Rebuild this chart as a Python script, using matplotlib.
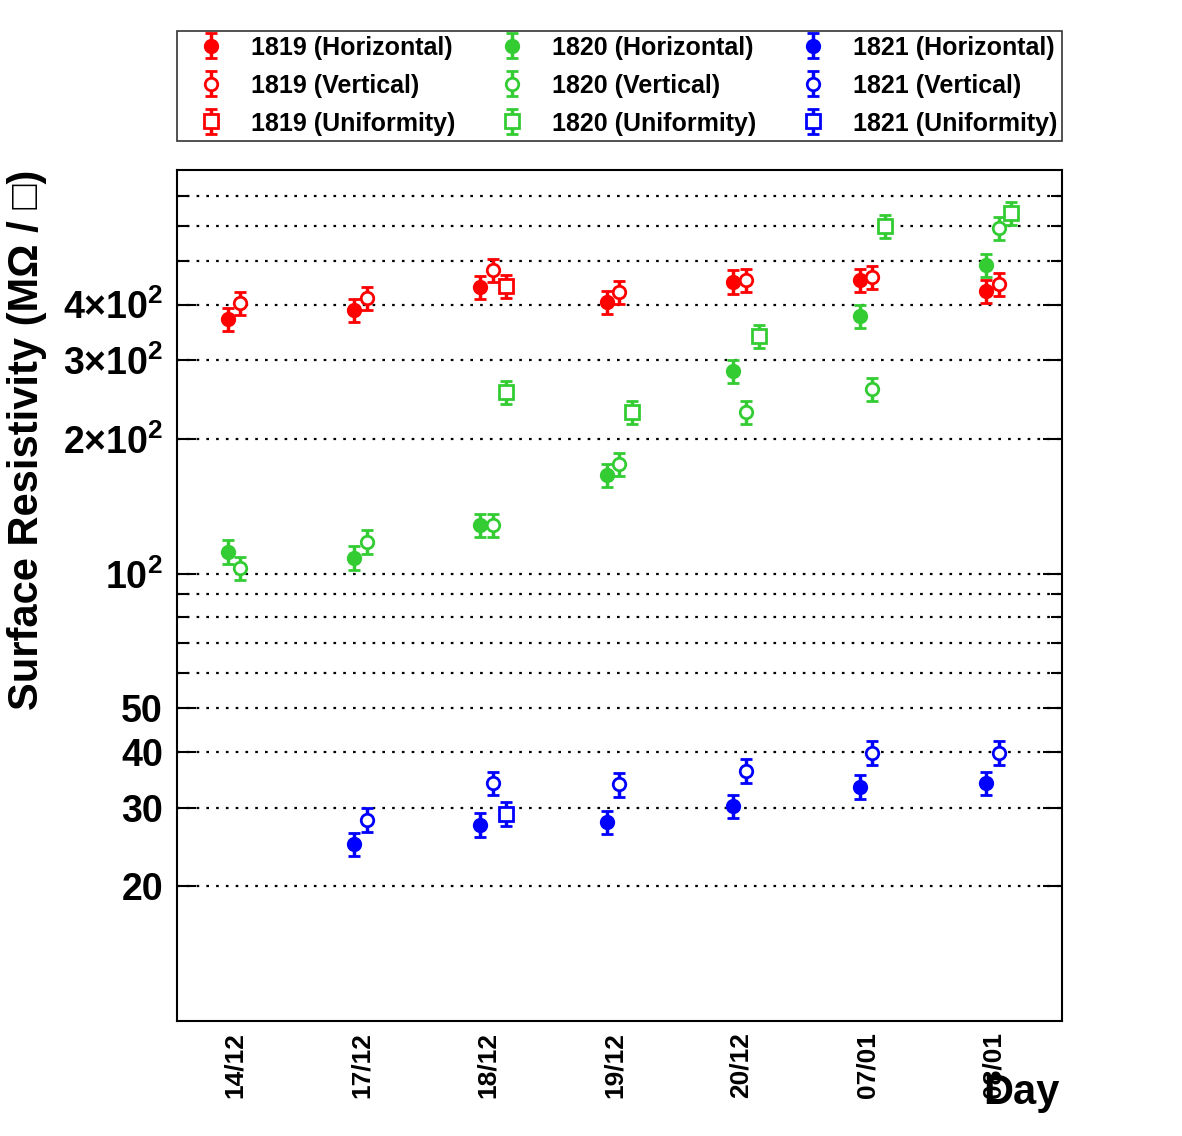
import numpy as np
import matplotlib
matplotlib.use("Agg")
import matplotlib.pyplot as plt
from matplotlib.ticker import FixedLocator, NullFormatter

plt.rcParams['font.family'] = ['Liberation Sans', 'DejaVu Sans']
plt.rcParams['font.weight'] = 'bold'
plt.rcParams['mathtext.fontset'] = 'custom'
plt.rcParams['mathtext.rm'] = 'Liberation Sans:bold'
plt.rcParams['mathtext.bf'] = 'Liberation Sans:bold'
plt.rcParams['mathtext.it'] = 'Liberation Sans:bold'

days = ["14/12", "17/12", "18/12", "19/12", "20/12", "07/01", "08/01"]

nan = np.nan
r1819_h = [371, 389, 437, 405, 450, 454, 429]
r1819_v = [403, 413, 477, 426, 453, 461, 444]
r1819_u = [nan, nan, 440, nan, nan, nan, nan]
r1820_h = [112, 108.6, 128.6, 166, 284, 377, 490]
r1820_v = [103, 118, 128.6, 176, 230, 259, 593]
r1820_u = [nan, nan, 255, 230, 340, 599, 640]
r1821_h = [nan, 24.9, 27.5, 27.8, 30.2, 33.4, 34.0]
r1821_v = [nan, 28.2, 34.0, 33.8, 36.3, 39.8, 39.8]
r1821_u = [nan, nan, 29.1, nan, nan, nan, nan]
rel_err = 0.06

y_major = [20, 30, 40, 50, 100, 200, 300, 400]
y_major_labels = ["20", "30", "40", "50", r"$\mathbf{10^{2}}$",
                  r"$\mathbf{2{\times}10^{2}}$", r"$\mathbf{3{\times}10^{2}}$",
                  r"$\mathbf{4{\times}10^{2}}$"]
y_minor = [60, 70, 80, 90, 500, 600, 700]

red = '#ff0000'
green = '#33cc33'
blue = '#0000ff'

fig = plt.figure(figsize=(11.82, 11.36), dpi=100)
ax = fig.add_axes([0.1497, 0.1012, 0.7488, 0.7492])

x = np.arange(len(days))
series = [
    ("1819 (Horizontal)", r1819_h, red, 'o', True, -0.1),
    ("1819 (Vertical)", r1819_v, red, 'o', False, 0.0),
    ("1819 (Uniformity)", r1819_u, red, 's', False, 0.1),
    ("1820 (Horizontal)", r1820_h, green, 'o', True, -0.1),
    ("1820 (Vertical)", r1820_v, green, 'o', False, 0.0),
    ("1820 (Uniformity)", r1820_u, green, 's', False, 0.1),
    ("1821 (Horizontal)", r1821_h, blue, 'o', True, -0.1),
    ("1821 (Vertical)", r1821_v, blue, 'o', False, 0.0),
    ("1821 (Uniformity)", r1821_u, blue, 's', False, 0.1),
]

handles = []
for label, vals, col, mk, filled, off in series:
    v = np.array(vals, dtype=float)
    h = ax.errorbar(x + off, v, yerr=v * rel_err, fmt=mk, color=col,
                    mfc=col if filled else 'white', mec=col, mew=2.0,
                    ms=9 if mk == 'o' else 10, elinewidth=2.5, capsize=4.5,
                    capthick=3, label=label, zorder=3)
    handles.append(h)

ax.set_yscale('log')
ax.set_ylim(10, 800)
ax.set_xlim(-0.5, len(days) - 0.5)

ax.yaxis.set_major_locator(FixedLocator(y_major))
ax.set_yticklabels(y_major_labels)
ax.yaxis.set_minor_locator(FixedLocator(y_minor))
ax.yaxis.set_minor_formatter(NullFormatter())

for yv in y_major + y_minor:
    ax.axhline(yv, color='black', linestyle=(0, (1.2, 3.2)), linewidth=1.6, zorder=1)

ax.tick_params(axis='y', which='major', direction='in', length=14, width=1.5,
               left=True, right=True, labelsize=27, pad=10)
ax.tick_params(axis='y', which='minor', direction='in', length=8, width=1.5,
               left=True, right=True)
ax.set_xticks(x - 0.04)
ax.set_xticklabels(days, rotation=90, fontsize=19, fontweight='bold')
ax.tick_params(axis='x', which='both', length=0, pad=8)
for sp in ax.spines.values():
    sp.set_linewidth(1.5)

fig.text(27 / 1182, 1 - 170 / 1136, "Surface Resistivity (M\u03a9 / \u25a1)",
         rotation=90, ha='center', va='top', fontsize=30, fontweight='bold',
         family=['Liberation Sans', 'DejaVu Sans'])
fig.text(1060 / 1182, 1 - 1093 / 1136, "Day", ha='right', va='center',
         fontsize=30, fontweight='bold')

leg = fig.legend(handles=handles, loc='lower left', ncol=3, mode='expand',
                 bbox_to_anchor=(0.1497, 0.8759, 0.7488, 0.1003),
                 frameon=True, fancybox=False, edgecolor='black',
                 fontsize=18, borderaxespad=0, handlelength=2.3,
                 handletextpad=0.45, labelspacing=0.55, borderpad=0.2,
                 columnspacing=1.0, handleheight=0.9)
leg.get_frame().set_linewidth(1.2)
for t in leg.get_texts():
    t.set_fontweight('bold')

fig.savefig("out.png", dpi=100)
